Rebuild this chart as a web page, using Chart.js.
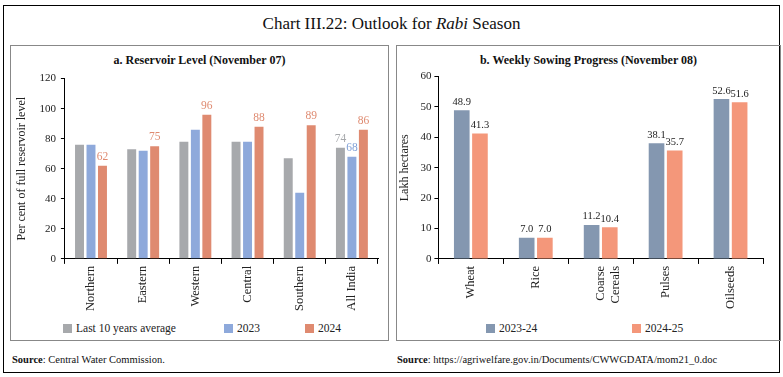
<!DOCTYPE html>
<html>
<head>
<meta charset="utf-8">
<script src="https://cdn.jsdelivr.net/npm/chart.js@4"></script>
<style>
  body { margin:0; background:#fff; font-family:"Liberation Serif", "DejaVu Serif", serif; color:#222; }
  #frame { position:absolute; left:3px; top:5px; width:775px; height:366px; border:1px solid #000; }
  #mainTitle { position:absolute; left:0; top:14px; width:783px; text-align:center; font-size:17px; color:#111; }
  .panel { position:absolute; top:45px; height:294px; border:1px solid #888; }
  .ptitle { position:absolute; top:7px; width:100%; text-align:center; font-weight:bold; font-size:12px; color:#111; }
  .box { position:absolute; }
  .leg { position:absolute; top:321px; font-size:11.5px; line-height:14px; white-space:nowrap; }
  .leg span { display:inline-block; width:9px; height:9px; margin-right:4px; vertical-align:-1px; }
  .src { position:absolute; top:354px; font-size:10.5px; color:#111; }
</style>
</head>
<body>
<div id="frame"></div>
<div id="mainTitle">Chart III.22: Outlook for <i>Rabi</i> Season</div>

<div class="panel" style="left:10px; width:377px;">
  <div class="ptitle">a. Reservoir Level (November 07)</div>
</div>
<div class="panel" style="left:396px; width:383px;">
  <div class="ptitle">b. Weekly Sowing Progress (November 08)</div>
</div>
<div class="box" style="left:11px; top:67px; width:375px; height:252px;"><canvas id="resChart"></canvas></div>
<div class="box" style="left:397px; top:67px; width:381px; height:252px;"><canvas id="sowChart"></canvas></div>

<div class="leg" style="left:63px;"><span style="background:#A7A9AC"></span>Last 10 years average</div>
<div class="leg" style="left:224px;"><span style="background:#8EA9DB"></span>2023</div>
<div class="leg" style="left:305px;"><span style="background:#DF8A70"></span>2024</div>
<div class="leg" style="left:486px;"><span style="background:#8497B0"></span>2023-24</div>
<div class="leg" style="left:632px;"><span style="background:#F4977A"></span>2024-25</div>

<div class="src" style="left:12px;"><b>Source</b>: Central Water Commission.</div>
<div class="src" style="left:397px;"><b>Source</b>: https://agriwelfare.gov.in/Documents/CWWGDATA/mom21_0.doc</div>

<script>
// panel a data
const regions = ['Northern', 'Eastern', 'Western', 'Central', 'Southern', 'All India'];
const avg10 = [76, 73, 78, 78, 67, 74];
const res2023 = [76, 72, 86, 78, 44, 68];
const res2024 = [62, 75, 96, 88, 89, 86];

// panel b data
const crops = ['Wheat', 'Rice', ['Coarse', 'Cereals'], 'Pulses', 'Oilseeds'];
const sow2324 = [48.9, 7.0, 11.2, 38.1, 52.6];
const sow2425 = [41.3, 7.0, 10.4, 35.7, 51.6];

const serif = '"Liberation Serif", "DejaVu Serif", serif';
Chart.defaults.font.family = serif;
Chart.defaults.color = '#222';

// draws value labels above bars, only where a dataset asks for it
const barLabels = {
  id: 'barLabels',
  afterDatasetsDraw(chart) {
    let ctx = chart.ctx;
    chart.data.datasets.forEach((ds, i) => {
      if (!ds.showLabels) return;
      let meta = chart.getDatasetMeta(i);
      meta.data.forEach((bar, j) => {
        if (ds.labelOnly && ds.labelOnly.indexOf(j) < 0) return;
        let v = ds.data[j];
        ctx.save();
        ctx.font = ds.labelSize + 'px ' + serif;
        ctx.fillStyle = ds.labelColor;
        ctx.textAlign = 'center';
        ctx.textBaseline = 'bottom';
        ctx.fillText(ds.decimals ? v.toFixed(ds.decimals) : v, bar.x, bar.y - 3);
        ctx.restore();
      });
    });
  }
};

function axisOpts(max, step, title, tickPad) {
  return {
    x: {
      grid: { display: true, drawOnChartArea: false, drawTicks: true, tickLength: 5, color: '#000', offset: true },
      border: { color: '#000' },
      ticks: { minRotation: 90, maxRotation: 90, font: { size: 12.5 }, color: '#222', padding: 2 }
    },
    y: {
      min: 0, max: max,
      grid: { display: true, drawOnChartArea: false, drawTicks: true, tickLength: 4, color: '#000' },
      border: { color: '#000' },
      ticks: { stepSize: step, font: { size: 11 }, color: '#222', padding: tickPad },
      title: { display: true, text: title, font: { size: 12 }, color: '#222', padding: { top: 0, bottom: 5 } }
    }
  };
}

let resCtx = document.getElementById('resChart').getContext('2d');
new Chart(resCtx, {
  type: 'bar',
  data: {
    labels: regions,
    datasets: [
      { label: 'Last 10 years average', data: avg10, backgroundColor: '#A7A9AC', showLabels: true, labelOnly: [5], labelColor: '#A7A9AC', labelSize: 11.5 },
      { label: '2023', data: res2023, backgroundColor: '#8EA9DB', showLabels: true, labelOnly: [5], labelColor: '#7F9FD6', labelSize: 11.5 },
      { label: '2024', data: res2024, backgroundColor: '#DF8A70', showLabels: true, labelColor: '#DF8A70', labelSize: 11.5 }
    ]
  },
  options: {
    responsive: true, maintainAspectRatio: false, animation: false,
    datasets: { bar: { categoryPercentage: 0.66, barPercentage: 0.78 } },
    layout: { padding: { left: 4, right: 8, top: 5, bottom: 6 } },
    plugins: { tooltip: { enabled: false }, legend: { display: false } },
    scales: axisOpts(120, 20, 'Per cent of full reservoir level', 5)
  },
  plugins: [barLabels]
});

let sowCtx = document.getElementById('sowChart').getContext('2d');
new Chart(sowCtx, {
  type: 'bar',
  data: {
    labels: crops,
    datasets: [
      { label: '2023-24', data: sow2324, backgroundColor: '#8497B0', showLabels: true, decimals: 1, labelColor: '#222', labelSize: 10.5 },
      { label: '2024-25', data: sow2425, backgroundColor: '#F4977A', showLabels: true, decimals: 1, labelColor: '#222', labelSize: 10.5 }
    ]
  },
  options: {
    responsive: true, maintainAspectRatio: false, animation: false,
    datasets: { bar: { categoryPercentage: 0.56, barPercentage: 0.86 } },
    layout: { padding: { left: 1, right: 15, top: 6, bottom: 8 } },
    plugins: { tooltip: { enabled: false }, legend: { display: false } },
    scales: axisOpts(60, 10, 'Lakh hectares', 3)
  },
  plugins: [barLabels]
});
</script>
</body>
</html>
